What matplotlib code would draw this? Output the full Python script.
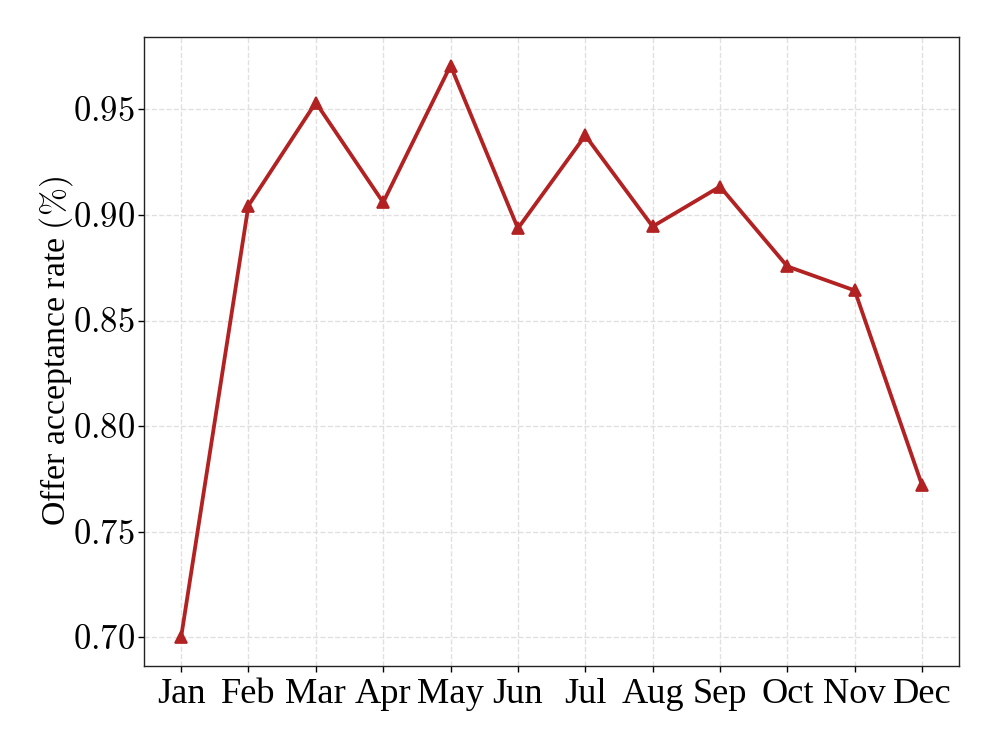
import matplotlib
matplotlib.use("Agg")
import matplotlib.pyplot as plt

months = ["Jan", "Feb", "Mar", "Apr", "May", "Jun",
          "Jul", "Aug", "Sep", "Oct", "Nov", "Dec"]
acceptance = [0.700, 0.9045, 0.9533, 0.9060, 0.9708, 0.8937,
              0.9377, 0.8946, 0.9135, 0.8757, 0.8643, 0.772]
yticks = [0.70, 0.75, 0.80, 0.85, 0.90, 0.95]

plt.rcParams["font.family"] = ["Liberation Serif", "DejaVu Serif"]
plt.rcParams["mathtext.fontset"] = "cm"

fig, ax = plt.subplots(figsize=(8, 6), dpi=124.5)
fig.subplots_adjust(left=0.1446, right=0.963, top=0.9505, bottom=0.1084)

x = list(range(len(months)))
ax.plot(x, acceptance, color="#B22222", linewidth=2.2, marker="^", markersize=7)

ax.set_xticks(x)
ax.set_xticklabels(months, fontsize=21)
ax.set_yticks(yticks)
ax.set_yticklabels([f"${v:.2f}$" for v in yticks], fontsize=20)
ax.tick_params(axis="y", pad=1.8)
ax.set_ylabel(r"Offer acceptance rate $(\%)$", fontsize=19.5, labelpad=-1)
ax.grid(True, linestyle="--", color="#d9d9d9", linewidth=0.8, alpha=0.8)
ax.set_axisbelow(True)
for sp in ax.spines.values():
    sp.set_color("#222222")

plt.savefig("out.png", dpi=124.5)
